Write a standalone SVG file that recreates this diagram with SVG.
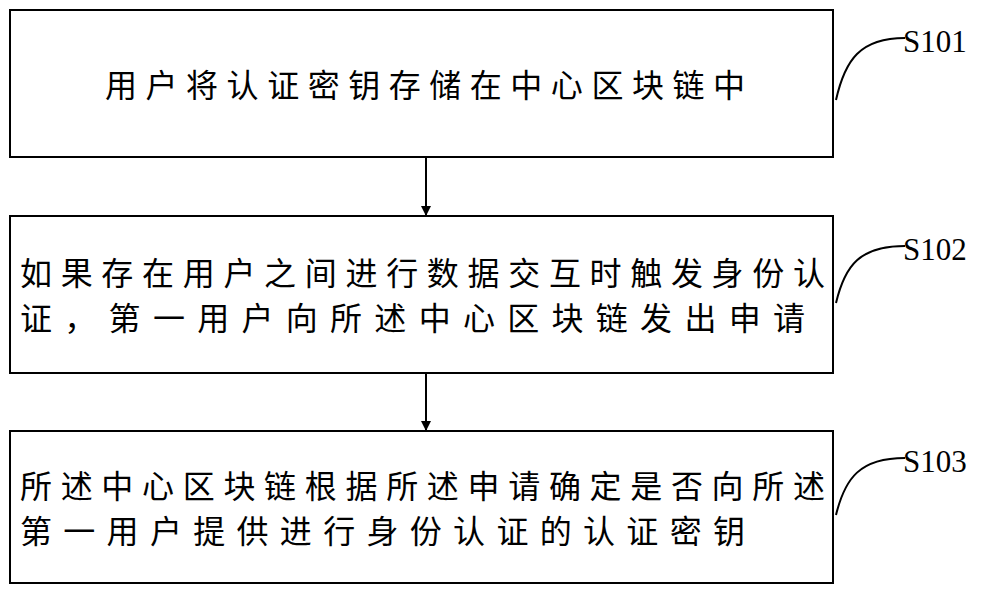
<svg xmlns="http://www.w3.org/2000/svg" width="1000" height="597" viewBox="0 0 1000 597">
<style>
.box{fill:#fff;stroke:#000;stroke-width:2}
.t{font-family:"Noto Sans CJK SC",sans-serif;font-size:32px;fill:#000}
.lab{font-family:"Liberation Serif",serif;font-size:31px;fill:#000}
.c{fill:none;stroke:#000;stroke-width:2}
</style>
<defs><marker id="a" markerWidth="10" markerHeight="10" refX="9" refY="5" orient="auto" markerUnits="userSpaceOnUse"><path d="M0,0 L10,5 L0,10 z" fill="#000"/></marker></defs>
<rect width="1000" height="597" fill="#fff"/>
<g id="n1"><rect class="box" x="10" y="10" width="823" height="147"/><text class="t" x="105" y="97" textLength="640" lengthAdjust="spacing">用户将认证密钥存储在中心区块链中</text></g>
<g id="n2"><rect class="box" x="10" y="216" width="823" height="157"/><text class="t" x="20" y="285" textLength="805" lengthAdjust="spacing">如果存在用户之间进行数据交互时触发身份认</text><text class="t" x="20" y="330" textLength="785" lengthAdjust="spacing">证，第一用户向所述中心区块链发出申请</text></g>
<g id="n3"><rect class="box" x="10" y="431" width="823" height="152"/><text class="t" x="20" y="498" textLength="805" lengthAdjust="spacing">所述中心区块链根据所述申请确定是否向所述</text><text class="t" x="20" y="543" textLength="725" lengthAdjust="spacing">第一用户提供进行身份认证的认证密钥</text></g>
<g id="l1"><path class="c" d="M836,100 C845,60 860,38 905,38"/><text class="lab" x="903" y="52">S101</text></g>
<g id="l2"><path class="c" d="M836,303 C845,265 860,246 905,246"/><text class="lab" x="903" y="260">S102</text></g>
<g id="l3"><path class="c" d="M836,515 C845,478 860,458 905,458"/><text class="lab" x="903" y="472">S103</text></g>
<g id="connectors"><line class="c" x1="426" y1="157" x2="426" y2="215" marker-end="url(#a)"/><line class="c" x1="426" y1="373" x2="426" y2="430" marker-end="url(#a)"/></g>
</svg>
